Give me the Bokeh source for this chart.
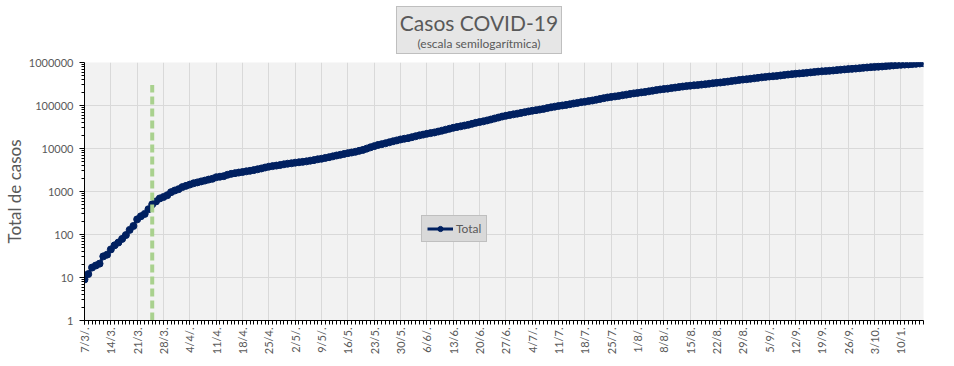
import math
import pandas as pd
from bokeh.plotting import figure
from bokeh.layouts import column
from bokeh.models import (FixedTicker, PrintfTickFormatter, Legend, LegendItem, Div)
from bokeh.embed import file_html
from bokeh.resources import INLINE

# ---------------- data ----------------
dates = [f"{d.day}/{d.month}" for d in pd.date_range("2020-03-07", "2020-10-16")]

total_cases = [
    # March 7-31
    9, 12, 17, 19, 21, 31, 34, 45, 56, 65, 79, 97, 128, 158, 225, 266, 301, 387, 502, 589,
    690, 745, 820, 966, 1054,
    # April
    1133, 1265, 1353, 1451, 1554, 1628, 1715, 1795, 1894, 1975,
    2142, 2208, 2277, 2443, 2571, 2669, 2758, 2839, 2941, 3031,
    3144, 3288, 3435, 3607, 3780, 3892, 4003, 4127, 4285, 4428,
    # May
    4532, 4681, 4783, 4887, 5020, 5208, 5371, 5611, 5776, 6034,
    6278, 6563, 6879, 7134, 7479, 7805, 8068, 8371, 8809, 9283,
    9931, 10649, 11353, 12076, 12628, 13228, 13933, 14702, 15419, 16214, 16851,
    # June
    17415, 18319, 19268, 20197, 21037, 22020, 22794, 23620, 24761, 25987,
    27373, 28764, 30295, 31577, 32785, 34159, 35552, 37510, 39570, 41204,
    42785, 44931, 47216, 49851, 52457, 55343, 57744, 59933, 62268, 64530,
    # July
    67197, 69941, 72786, 75376, 77815, 80447, 83426, 87030, 90693, 94060,
    97509, 100166, 103265, 106910, 111160, 114783, 119301, 122524, 126755, 130774,
    136118, 141900, 148027, 153520, 158334, 162526, 167416, 173355, 178996, 185373, 191302,
    # August
    196543, 201919, 206743, 213535, 220682, 228195, 235677, 241811, 246499, 253868,
    260911, 268574, 276072, 282437, 289100, 294569, 299126, 305966, 312659, 320884,
    329043, 336802, 342154, 350867, 359638, 370188, 380292, 392009, 401239, 408426, 417735,
    # September
    428239, 439172, 451198, 461882, 471806, 478792, 488007, 500034, 512293, 524198,
    535705, 546481, 555537, 565446, 577338, 589012, 601713, 613658, 622934, 631365,
    640147, 652174, 664799, 678266, 691235, 702484, 711325, 723132, 736609, 751001,
    # October 1-16
    765002, 779689, 790810, 798486, 809728, 824468, 840915, 856369, 871468, 883882,
    894206, 903730, 917035, 931967, 949063, 965609,
]

lockdown_date = "25/3"
lockdown_y = [1, 300000]

tick_dates = ["7/3", "14/3", "21/3", "28/3", "4/4", "11/4", "18/4", "25/4", "2/5", "9/5",
              "16/5", "23/5", "30/5", "6/6", "13/6", "20/6", "27/6", "4/7", "11/7", "18/7",
              "25/7", "1/8", "8/8", "15/8", "22/8", "29/8", "5/9", "12/9", "19/9", "26/9",
              "3/10", "10/10"]
tick_labels = ["7/3/.", "14/3.", "21/3.", "28/3.", "4/4/.", "11/4.", "18/4.", "25/4.", "2/5/.", "9/5/.",
               "16/5.", "23/5.", "30/5.", "6/6/.", "13/6.", "20/6.", "27/6.", "4/7/.", "11/7.", "18/7.",
               "25/7.", "1/8/.", "8/8/.", "15/8.", "22/8.", "29/8.", "5/9/.", "12/9.", "19/9.", "26/9.",
               "3/10.", "10/1."]
y_ticks = [1, 10, 100, 1000, 10000, 100000, 1000000]

title_text = "Casos COVID-19"
subtitle_text = "(escala semilogarítmica)"
y_label = "Total de casos"
series_name = "Total"

# ---------------- figure ----------------
FONT = "Lato"
GREY_TXT = "#595959"
NAVY = "#002060"

x = list(range(len(dates)))
tick_pos = [dates.index(d) for d in tick_dates]
lock_x = [dates.index(lockdown_date)] * 2

p = figure(width=938, height=302, y_axis_type="log",
           x_range=(0, len(dates) - 1), y_range=(1, 1000000),
           output_backend="svg", toolbar_location=None,
           min_border_left=74, min_border_right=15, min_border_top=6, min_border_bottom=38,
           background_fill_color="#f2f2f2", border_fill_color="white")
p.outline_line_color = None

# grid
p.xgrid.ticker = FixedTicker(ticks=tick_pos)
p.ygrid.ticker = FixedTicker(ticks=y_ticks)
p.grid.grid_line_color = "#d9d9d9"
p.grid.grid_line_width = 1

# x axis
p.xaxis.ticker = FixedTicker(ticks=tick_pos, minor_ticks=x)
p.xaxis.major_label_overrides = {pos: lab for pos, lab in zip(tick_pos, tick_labels)}
p.xaxis.major_label_orientation = math.pi / 2
p.xaxis.major_label_standoff = 3
p.xaxis.major_tick_out = 4
p.xaxis.major_tick_in = 0
p.xaxis.minor_tick_out = 4
p.xaxis.minor_tick_in = 0

# y axis
minor_y = [m * 10 ** e for e in range(0, 6) for m in range(2, 10)]
p.yaxis.ticker = FixedTicker(ticks=y_ticks, minor_ticks=minor_y)
p.yaxis.formatter = PrintfTickFormatter(format="%d")
p.yaxis.major_tick_out = 5
p.yaxis.major_tick_in = 0
p.yaxis.minor_tick_out = 3
p.yaxis.minor_tick_in = 0
p.yaxis.major_label_standoff = 6
p.yaxis.axis_label = y_label
p.yaxis.axis_label_standoff = 1
p.yaxis.axis_label_text_font = FONT
p.yaxis.axis_label_text_font_size = "17px"
p.yaxis.axis_label_text_font_style = "normal"
p.yaxis.axis_label_text_color = GREY_TXT

for ax in (p.xaxis[0], p.yaxis[0]):
    ax.axis_line_color = "black"
    ax.major_tick_line_color = "black"
    ax.minor_tick_line_color = "black"
    ax.major_label_text_font = FONT
    ax.major_label_text_font_size = "11px"
    ax.major_label_text_color = GREY_TXT

# series
line_r = p.line(x, total_cases, line_color=NAVY, line_width=3)
pts_r = p.scatter(x, total_cases, size=7, fill_color=NAVY, line_color=NAVY)
p.line(lock_x, lockdown_y, line_color="#a9d18e", line_width=4, line_dash="8 4")

legend = Legend(items=[LegendItem(label=series_name, renderers=[line_r, pts_r])],
                location=(337, 78), orientation="vertical",
                background_fill_color="#d9d9d9", background_fill_alpha=1,
                border_line_color="#a6a6a6", border_line_width=1,
                label_text_font=FONT, label_text_font_size="12px", label_text_color=GREY_TXT,
                glyph_width=26, glyph_height=13, padding=5, spacing=0, margin=0,
                label_standoff=3, label_height=13)
p.add_layout(legend)

# title box (HTML, above the figure)
title_html = (
    '<div style="position:relative;width:938px;height:56px;">'
    '<div style="position:absolute;left:396px;top:6px;width:166px;height:48px;'
    'background:#e6e6e6;border:1px solid #bfbfbf;text-align:center;white-space:nowrap;'
    f'font-family:Lato;color:{GREY_TXT};overflow:visible;">'
    f'<div style="font-size:21px;line-height:24px;margin-top:4px;white-space:nowrap;">{title_text}</div>'
    f'<div style="font-size:12px;line-height:14px;margin-top:2px;white-space:nowrap;">{subtitle_text}</div>'
    '</div></div>'
)
title_div = Div(text=title_html, width=938, height=56, margin=(0, 0, 0, 0))

layout = column(title_div, p, spacing=0)
open("out.html", "w").write(file_html(layout, INLINE))
